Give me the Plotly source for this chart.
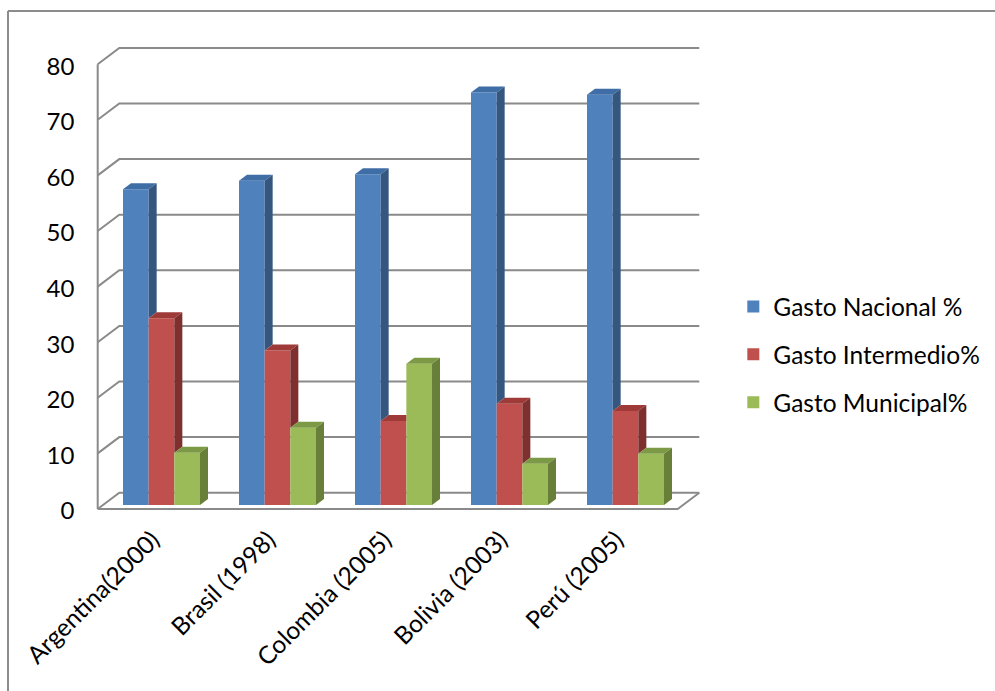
import plotly.graph_objects as go

# ---- data ----
categorias = ["Argentina(2000)", "Brasil (1998)", "Colombia (2005)", "Bolivia (2003)", "Perú (2005)"]
gasto_nacional = [56.8, 58.3, 59.5, 74.2, 73.8]
gasto_intermedio = [33.6, 27.8, 15.1, 18.2, 16.9]
gasto_municipal = [9.4, 13.9, 25.4, 7.4, 9.2]
series_nombres = ["Gasto Nacional %", "Gasto Intermedio%", "Gasto Municipal%"]
y_ticks = [0, 10, 20, 30, 40, 50, 60, 70, 80]

# ---- styling ----
FONT = "Lato"
FRONT = ["#4F81BD", "#C0504D", "#9BBB59"]
TOP = ["#3F6DA6", "#9E3B39", "#7C9A45"]
SIDE = ["#35577F", "#7E302E", "#677F38"]
GRID = "#8a8a8a"

W, H = 995, 691
# pixel frame of the plane the bar fronts sit in
X0_PX, X1_PX = 103.5, 683.5        # category -0.5 .. 4.5
Y0_PX, Y80_PX = 505.0, 60.2        # value 0 .. 80
sx = (X1_PX - X0_PX) / 5.0
sy = (Y0_PX - Y80_PX) / 80.0
XR = [-0.57, 4.66]
YR = [-1.2, 83.8]
dom_x = [(X0_PX + (XR[0] + 0.5) * sx) / W, (X0_PX + (XR[1] + 0.5) * sx) / W]
dom_y = [(H - (Y0_PX - YR[0] * sy)) / H, (H - (Y0_PX - YR[1] * sy)) / H]

# 3-D offsets in data units
BAR_DX, BAR_DY = 8 / sx, 6 / sy                  # depth of each bar
FRONT_DX, FRONT_DY = -5.8 / sx, -4.0 / sy        # front edge of walls/floor
BACK_DX, BACK_DY = 15.8 / sx, 12.3 / sy          # back wall

BARGAP = 0.336
bw = (1 - BARGAP) / 3
xs = list(range(len(categorias)))
valores = [gasto_nacional, gasto_intermedio, gasto_municipal]

fig = go.Figure()
for k, (nombre, vals) in enumerate(zip(series_nombres, valores)):
    fig.add_trace(go.Bar(
        x=xs, y=vals, name=nombre, marker=dict(color=FRONT[k], line=dict(width=0)),
        legendgroup=nombre,
    ))

shapes = []

def path(pts):
    return "M " + " L ".join(f"{x:.5f},{y:.5f}" for x, y in pts) + " Z"

# walls and gridlines (behind the bars)
xmin, xmax = -0.5, len(categorias) - 0.5
for v in y_ticks:
    shapes.append(dict(
        type="path", xref="x", yref="y", layer="below",
        path=f"M {xmin + FRONT_DX:.5f},{v + FRONT_DY:.5f} L {xmin + BACK_DX:.5f},{v + BACK_DY:.5f} "
             f"L {xmax + BACK_DX:.5f},{v + BACK_DY:.5f}",
        line=dict(color=GRID, width=2),
    ))
# left wall front edge
shapes.append(dict(type="line", xref="x", yref="y", layer="below",
                   x0=xmin + FRONT_DX, x1=xmin + FRONT_DX, y0=FRONT_DY, y1=y_ticks[-1] + FRONT_DY,
                   line=dict(color=GRID, width=2)))
# floor front edge and right edge
shapes.append(dict(
    type="path", xref="x", yref="y", layer="below",
    path=f"M {xmin + FRONT_DX:.5f},{FRONT_DY:.5f} L {xmax + FRONT_DX:.5f},{FRONT_DY:.5f} "
         f"L {xmax + BACK_DX:.5f},{BACK_DY:.5f}",
    line=dict(color=GRID, width=2),
))

# top and side faces of each bar
for i in xs:
    for k in range(3):
        v = valores[k][i]
        L = i - 1.5 * bw + k * bw
        R = L + bw
        nxt = valores[k + 1][i] if k < 2 else None
        if nxt is not None and nxt > v:
            top = [(L, v), (R, v), (R, v + BAR_DY), (L + BAR_DX, v + BAR_DY)]
        else:
            top = [(L, v), (R, v), (R + BAR_DX, v + BAR_DY), (L + BAR_DX, v + BAR_DY)]
        shapes.append(dict(type="path", xref="x", yref="y", layer="above", path=path(top),
                           fillcolor=TOP[k], line=dict(width=0)))
        lower = nxt if nxt is not None else 0
        if v > lower:
            side = [(R, lower), (R, v), (R + BAR_DX, v + BAR_DY), (R + BAR_DX, lower + BAR_DY)]
            shapes.append(dict(type="path", xref="x", yref="y", layer="above", path=path(side),
                               fillcolor=SIDE[k], line=dict(width=0)))

# outer frame (top and left edges)
shapes.append(dict(type="line", xref="paper", yref="paper", x0=8 / W, x1=1, y0=1 - 11 / H, y1=1 - 11 / H,
                   line=dict(color="#8c8c8c", width=2)))
shapes.append(dict(type="line", xref="paper", yref="paper", x0=8 / W, x1=8 / W, y0=0, y1=1 - 11 / H,
                   line=dict(color="#8c8c8c", width=2)))

fig.update_layout(
    width=W, height=H, margin=dict(l=0, r=0, t=0, b=0, autoexpand=False),
    paper_bgcolor="white", plot_bgcolor="rgba(0,0,0,0)",
    barmode="group", bargap=BARGAP, bargroupgap=0,
    font=dict(family=FONT, color="black"),
    shapes=shapes,
    showlegend=True,
    legend=dict(
        x=0.737, y=1 - 284 / H, xanchor="left", yanchor="top",
        font=dict(family=FONT, size=24.5, color="black"),
        tracegroupgap=13, bgcolor="rgba(0,0,0,0)",
    ),
    xaxis=dict(
        domain=dom_x, range=XR, showgrid=False, zeroline=False, showline=False,
        tickmode="array", tickvals=xs, ticktext=categorias, tickangle=-45,
        tickfont=dict(family=FONT, size=24.5, color="black"), ticks="",
        ticklabelstandoff=8, ticklabelshift=-9, automargin=False,
    ),
    yaxis=dict(
        domain=dom_y, range=YR, showgrid=False, zeroline=False, showline=False,
        tickmode="array", tickvals=y_ticks, ticks="",
        tickfont=dict(family=FONT, size=24, color="black"),
        ticklabelshift=6, ticklabelstandoff=20, automargin=False,
    ),
)

fig.write_html("out.html")
